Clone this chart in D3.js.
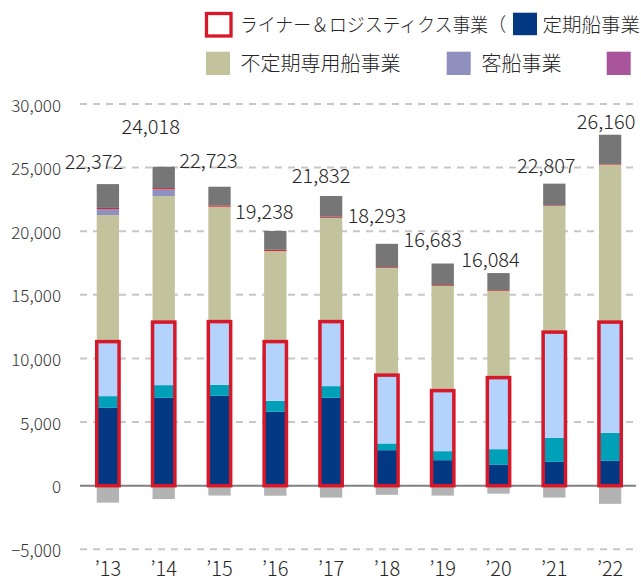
<!DOCTYPE html>
<html><head><meta charset="utf-8">
<script src="https://cdn.jsdelivr.net/npm/d3@7"></script>
<style>
html,body{margin:0;padding:0;background:#fff;}
svg{display:block;font-family:"Noto Sans CJK JP","Noto Sans",sans-serif;font-weight:300;}
</style></head>
<body><svg id="c" width="641" height="578"></svg>
<script>
// ---- data (単位: 億円) ----
const years = ["’13","’14","’15","’16","’17","’18","’19","’20","’21","’22"];
const linerShip   = [6116, 6905, 7062, 5804, 6905, 2791, 2005, 1636, 1872, 1950]; // 定期船事業
const airCargo    = [ 922,  998,  865,  865,  920,  528,  708, 1234, 1887, 2202]; // 航空運送事業
const logistics   = [4286, 4955, 4970, 4655, 5072, 5371, 4758, 5623, 8312, 8706]; // 物流事業
const bulkShip    = [9947, 9908, 9028, 7117, 8158, 8430, 8242, 6826, 9909,12378]; // 不定期専用船事業
const cruise      = [ 472,  527,    0,    0,    0,    0,    0,    0,    0,    0]; // 客船事業
const realEstate  = [  90,  100,  110,  100,   80,   60,   60,   60,   50,   50]; // 不動産業
const others      = [1871, 1678, 1463, 1485, 1631, 1830, 1690, 1332, 1710, 2300]; // その他
const adjustment  = [-1332,-1053, -775, -788, -934, -717, -780, -627, -933,-1426]; // 調整額
const totals      = ["22,372","24,018","22,723","19,238","21,832","18,293","16,683","16,084","22,807","26,160"];
const yTicks      = [-5000, 0, 5000, 10000, 15000, 20000, 25000, 30000];
const yTickLabels = ["−5,000","0","5,000","10,000","15,000","20,000","25,000","30,000"];

// label placement nudges (px, styling only)
const labelLift  = [15, 33, 19, 12, 13, 21, 17, 6, 11, 6];
const labelShift = [-14, -13, -11, -11, -10, -10, -10, -8, -8, -4];

const keys = ["linerShip","airCargo","logistics","bulkShip","cruise","realEstate","others","adjustment"];
const colors = {
  linerShip:"#033983", airCargo:"#00A0B9", logistics:"#B4D3FC", bulkShip:"#C2C39D",
  cruise:"#9090BF", realEstate:"#CC2B36", others:"#767676", adjustment:"#B3B3B3"
};
const rows = years.map((y,i)=>({year:y, linerShip:linerShip[i], airCargo:airCargo[i], logistics:logistics[i],
  bulkShip:bulkShip[i], cruise:cruise[i], realEstate:realEstate[i], others:others[i], adjustment:adjustment[i]}));

const svg = d3.select("#c");
const x = d3.scaleBand().domain(years).range([80, 638]).paddingInner(0.6).paddingOuter(0.3);
const y = d3.scaleLinear().domain([-5000, 30000]).range([549.3, 104]);

// gridlines
svg.append("g").selectAll("line").data(yTicks.filter(d=>d!==0)).join("line")
  .attr("x1",80).attr("x2",636).attr("y1",d=>y(d)).attr("y2",d=>y(d))
  .attr("stroke","#C8C8C8").attr("stroke-width",2).attr("stroke-dasharray","7,6");
// zero line
svg.append("line").attr("x1",80).attr("x2",636).attr("y1",y(0)).attr("y2",y(0))
  .attr("stroke","#808080").attr("stroke-width",2);

// y axis labels
svg.append("g").selectAll("text").data(yTicks).join("text")
  .attr("x",61).attr("y",d=>y(d)).attr("text-anchor","end").attr("dominant-baseline","central")
  .attr("font-size",17).attr("fill","#333").text((d,i)=>yTickLabels[i]);

// stacked bars
const series = d3.stack().keys(keys).offset(d3.stackOffsetDiverging)(rows);
svg.append("g").selectAll("g").data(series).join("g").attr("fill",d=>colors[d.key])
  .selectAll("rect").data(d=>d).join("rect")
  .attr("x",d=>x(d.data.year)).attr("width",x.bandwidth())
  .attr("y",d=>y(Math.max(d[0],d[1]))).attr("height",d=>Math.abs(y(d[0])-y(d[1])));

// liner & logistics outline
svg.append("g").selectAll("rect").data(rows).join("rect")
  .attr("x",d=>x(d.year)).attr("width",x.bandwidth())
  .attr("y",d=>y(d.linerShip+d.airCargo+d.logistics))
  .attr("height",d=>y(0)-y(d.linerShip+d.airCargo+d.logistics))
  .attr("fill","none").attr("stroke","#D7182A").attr("stroke-width",3.5);

// total labels
svg.append("g").selectAll("text").data(rows).join("text")
  .attr("x",(d,i)=>x(d.year)+x.bandwidth()/2+labelShift[i])
  .attr("y",(d,i)=>y(d.linerShip+d.airCargo+d.logistics+d.bulkShip+d.cruise+d.realEstate+d.others)-labelLift[i])
  .attr("text-anchor","middle").attr("font-size",20).attr("fill","#262626")
  .text((d,i)=>totals[i]);

// x labels
svg.append("g").selectAll("text").data(years).join("text")
  .attr("x",d=>x(d)+x.bandwidth()/2).attr("y",576).attr("text-anchor","middle")
  .attr("font-size",20).attr("fill","#262626").text(d=>d);

// legend
const lg = svg.append("g").attr("fill","#262626");
lg.append("rect").attr("x",206.5).attr("y",13.5).attr("width",24.5).attr("height",22.5)
  .attr("fill","#fff").attr("stroke","#D7182A").attr("stroke-width",3.3);
lg.append("text").attr("x",240).attr("y",31.5).attr("font-size",19)
  .attr("textLength",266).attr("lengthAdjust","spacingAndGlyphs").text("ライナー＆ロジスティクス事業（");
lg.append("rect").attr("x",513).attr("y",12.7).attr("width",24).attr("height",22.5).attr("fill",colors.linerShip);
lg.append("text").attr("x",542.5).attr("y",31.5).attr("font-size",19.5).text("定期船事業");
lg.append("rect").attr("x",206).attr("y",51.7).attr("width",24).attr("height",23.3).attr("fill",colors.bulkShip);
lg.append("text").attr("x",240.5).attr("y",70.5).attr("font-size",20).text("不定期専用船事業");
lg.append("rect").attr("x",446.7).attr("y",51.7).attr("width",24).attr("height",23.3).attr("fill",colors.cruise);
lg.append("text").attr("x",481.5).attr("y",70.5).attr("font-size",20).text("客船事業");
lg.append("rect").attr("x",606.7).attr("y",51.7).attr("width",24).attr("height",23.3).attr("fill","#A9559B");
lg.append("text").attr("x",642).attr("y",70.5).attr("font-size",20).text("不動産業");
</script></body></html>
